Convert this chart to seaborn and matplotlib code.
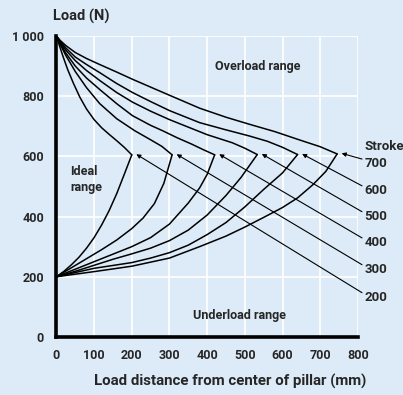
import pandas as pd
import numpy as np
import matplotlib
matplotlib.use('Agg')
import matplotlib.pyplot as plt
import seaborn as sns

# stroke values (mm) and where each pair of curves meets
strokes = [200, 300, 400, 500, 600, 700]
peak_x = [200, 307, 420, 533, 640, 745]
peak_y = [605, 605, 605, 606, 606, 608]

# upper curves (start at 1000 N)
top200_x = [0, 8, 18, 30, 45, 62, 80, 100, 120, 140, 160, 180, 200]
top200_y = [1000, 968, 930, 888, 843, 797, 757, 722, 695, 673, 652, 630, 605]
top300_x = [0, 10, 25, 50, 80, 115, 160, 208, 250, 280, 307]
top300_y = [1000, 972, 935, 882, 828, 775, 725, 685, 655, 633, 605]
top400_x = [0, 10, 25, 50, 80, 115, 160, 202, 250, 282, 320, 360, 390, 420]
top400_y = [1000, 975, 943, 900, 860, 822, 775, 735, 703, 685, 662, 640, 622, 605]
top500_x = [0, 10, 25, 50, 80, 115, 160, 202, 250, 300, 350, 400, 467, 500, 533]
top500_y = [1000, 978, 953, 918, 885, 852, 812, 780, 750, 722, 697, 672, 645, 627, 606]
top600_x = [0, 10, 25, 50, 80, 115, 160, 202, 250, 300, 380, 450, 511, 560, 600, 640]
top600_y = [1000, 982, 960, 930, 905, 878, 842, 812, 782, 752, 712, 688, 668, 650, 630, 606]
top700_x = [0, 10, 25, 50, 80, 115, 160, 202, 250, 300, 380, 450, 511, 580, 644, 700, 745]
top700_y = [1000, 985, 968, 945, 925, 905, 880, 856, 830, 803, 760, 730, 707, 682, 655, 632, 608]

# lower curves (start at 200 N)
bot200_x = [0, 20, 40, 60, 80, 100, 120, 140, 160, 180, 200]
bot200_y = [200, 218, 240, 265, 295, 330, 372, 420, 476, 540, 605]
bot300_x = [0, 40, 80, 120, 160, 200, 230, 260, 285, 307]
bot300_y = [200, 230, 260, 290, 322, 360, 395, 443, 510, 605]
bot400_x = [0, 50, 100, 150, 200, 250, 300, 350, 380, 400, 420]
bot400_y = [200, 225, 250, 275, 300, 330, 375, 445, 495, 540, 605]
bot500_x = [0, 50, 100, 150, 200, 250, 300, 350, 400, 450, 490, 533]
bot500_y = [200, 218, 238, 258, 276, 295, 320, 355, 405, 470, 530, 606]
bot600_x = [0, 100, 200, 250, 300, 350, 400, 450, 500, 550, 600, 640]
bot600_y = [200, 228, 247, 262, 280, 305, 340, 380, 432, 490, 545, 606]
bot700_x = [0, 100, 200, 300, 380, 450, 500, 556, 600, 640, 680, 715, 745]
bot700_y = [200, 217, 235, 262, 300, 335, 365, 401, 430, 462, 505, 550, 608]

# stroke label positions on the right
label_y = [131, 224, 313, 400, 486, 575]

x_ticks = [0, 100, 200, 300, 400, 500, 600, 700, 800]
y_ticks = [0, 200, 400, 600, 800, 1000]
y_tick_labels = ['0', '200', '400', '600', '800', '1 000']

bg = '#dcebf7'

sns.set_theme(style='whitegrid')
plt.rcParams['font.family'] = ['Roboto', 'DejaVu Sans']
plt.rcParams['font.weight'] = 'bold'

curves = [
    (top200_x, top200_y), (top300_x, top300_y), (top400_x, top400_y),
    (top500_x, top500_y), (top600_x, top600_y), (top700_x, top700_y),
    (bot200_x, bot200_y), (bot300_x, bot300_y), (bot400_x, bot400_y),
    (bot500_x, bot500_y), (bot600_x, bot600_y), (bot700_x, bot700_y),
]
rows = []
for i, (xs, ys) in enumerate(curves):
    for x, y in zip(xs, ys):
        rows.append({'curve': i, 'x': x, 'y': y})
df = pd.DataFrame(rows)

fig = plt.figure(figsize=(4.03, 3.95), dpi=100)
fig.patch.set_facecolor(bg)
ax = fig.add_axes([0.140, 0.147, 0.748, 0.762])
ax.set_facecolor(bg)

sns.lineplot(data=df, x='x', y='y', units='curve', estimator=None, sort=False,
             color='black', lw=1.1, ax=ax)

# leader lines with small arrowheads pointing at the meeting points
for px, py, ly in zip(peak_x, peak_y, label_y):
    ax.annotate('', xy=(px + 12, py + 2), xytext=(811, ly + 16),
                arrowprops=dict(arrowstyle='-|>', lw=0.8, color='black',
                                mutation_scale=6, shrinkA=0, shrinkB=0),
                annotation_clip=False)
for s, ly in zip(strokes, label_y):
    ax.text(818, ly, str(s), fontsize=9.5, fontweight='bold', va='center', ha='left')
ax.text(818, 632, 'Stroke', fontsize=9.5, fontweight='bold', va='center', ha='left')

ax.text(533, 900, 'Overload range', fontsize=9, fontweight='bold', ha='center', va='center')
ax.text(36, 522, 'Ideal\nrange', fontsize=9, fontweight='bold', ha='left', va='center',
        linespacing=1.3)
ax.text(485, 71, 'Underload range', fontsize=9, fontweight='bold', ha='center', va='center')

ax.set_xlim(0, 800)
ax.set_ylim(0, 1000)
ax.set_xticks(x_ticks)
ax.set_yticks(y_ticks)
ax.set_yticklabels(y_tick_labels)
ax.tick_params(length=0, pad=9, labelsize=9)
for lab in ax.get_xticklabels() + ax.get_yticklabels():
    lab.set_fontweight('bold')
ax.grid(True, color='white', lw=1.2)
ax.set_xlabel('')
ax.set_ylabel('')
for side in ['top', 'right']:
    ax.spines[side].set_visible(False)
for side in ['left', 'bottom']:
    ax.spines[side].set_color('black')
    ax.spines[side].set_linewidth(2.6)
    ax.spines[side].set_zorder(5)

fig.text(0.131, 0.959, 'Load (N)', fontsize=10.5, fontweight='bold', va='center', ha='left')
fig.text(0.571, 0.035, 'Load distance from center of pillar (mm)', fontsize=10.8,
         fontweight='bold', va='center', ha='center')

fig.savefig('out.png', dpi=100, facecolor=bg)
